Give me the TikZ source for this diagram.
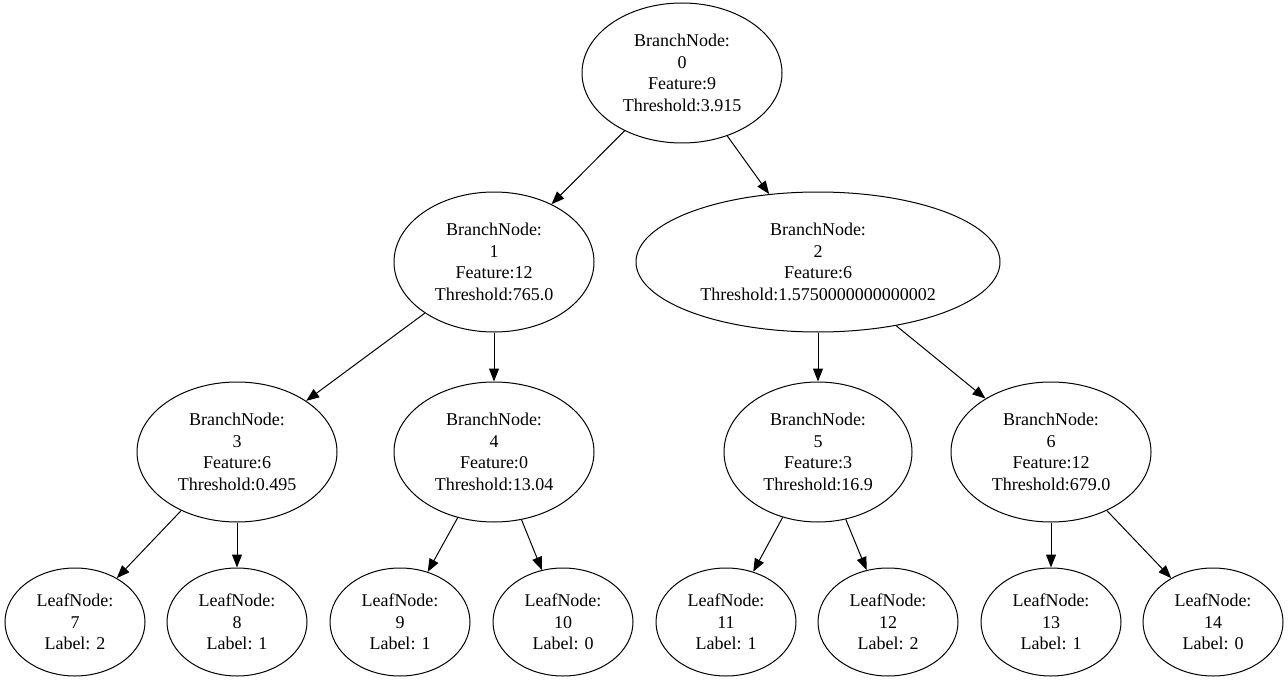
\documentclass[tikz,border=0pt]{standalone}
\usepackage{fontspec}
\setmainfont{Liberation Serif}
\usepackage{tikz}
\usetikzlibrary{positioning,shapes.geometric,arrows.meta}

\tikzset{
	tree/.style={ellipse, draw, line width=1pt, inner sep=0pt, align=center, font=\fontsize{18}{21.5}\selectfont},
	branch/.style={tree, minimum width=200pt, minimum height=140pt},
	leaf/.style={tree, minimum width=140pt, minimum height=108pt},
	edge/.style={line width=1pt, -{Triangle[length=13pt,width=10pt]}}
}

\begin{document}
\begin{tikzpicture}[x=1pt,y=-1pt]
				\useasboundingbox (0,0) rectangle (1288,682);
				%%%nodes
				%depth 0
				\node[branch] at (682,73) (B0){BranchNode:\\0\\Feature:9\\Threshold:3.915};
				%depth 1
				\node[branch] at (494,262) (B1){BranchNode:\\1\\Feature:12\\Threshold:765.0};
				\node[branch, minimum width=364pt] at (818,262) (B2){BranchNode:\\2\\Feature:6\\Threshold:1.5750000000000002};
				%depth 2
				\node[branch] at (237,452) (B3){BranchNode:\\3\\Feature:6\\Threshold:0.495};
				\node[branch] at (494,452) (B4){BranchNode:\\4\\Feature:0\\Threshold:13.04};
				\node[branch, minimum width=188pt] at (818,452) (B5){BranchNode:\\5\\Feature:3\\Threshold:16.9};
				\node[branch] at (1051,452) (B6){BranchNode:\\6\\Feature:12\\Threshold:679.0};
				%depth 3
				\node[leaf] at (75,622) (L7){LeafNode:\\7\\Label: 2};
				\node[leaf] at (237,622) (L8){LeafNode:\\8\\Label: 1};
				\node[leaf] at (400,622) (L9){LeafNode:\\9\\Label: 1};
				\node[leaf] at (563,622) (L10){LeafNode:\\10\\Label: 0};
				\node[leaf] at (726,622) (L11){LeafNode:\\11\\Label: 1};
				\node[leaf] at (888,622) (L12){LeafNode:\\12\\Label: 2};
				\node[leaf] at (1051,622) (L13){LeafNode:\\13\\Label: 1};
				\node[leaf] at (1213,622) (L14){LeafNode:\\14\\Label: 0};
				%%%links
				%level 1
				\draw[edge] (B0) -- (B1);
				\draw[edge] (B0) -- (B2);
				%level 2
				\draw[edge] (B1) -- (B3);
				\draw[edge] (B1) -- (B4);
				\draw[edge] (B2) -- (B5);
				\draw[edge] (B2) -- (B6);
				%level 3
				\draw[edge] (B3) -- (L7);
				\draw[edge] (B3) -- (L8);
				\draw[edge] (B4) -- (L9);
				\draw[edge] (B4) -- (L10);
				\draw[edge] (B5) -- (L11);
				\draw[edge] (B5) -- (L12);
				\draw[edge] (B6) -- (L13);
				\draw[edge] (B6) -- (L14);
			\end{tikzpicture}
\end{document}
